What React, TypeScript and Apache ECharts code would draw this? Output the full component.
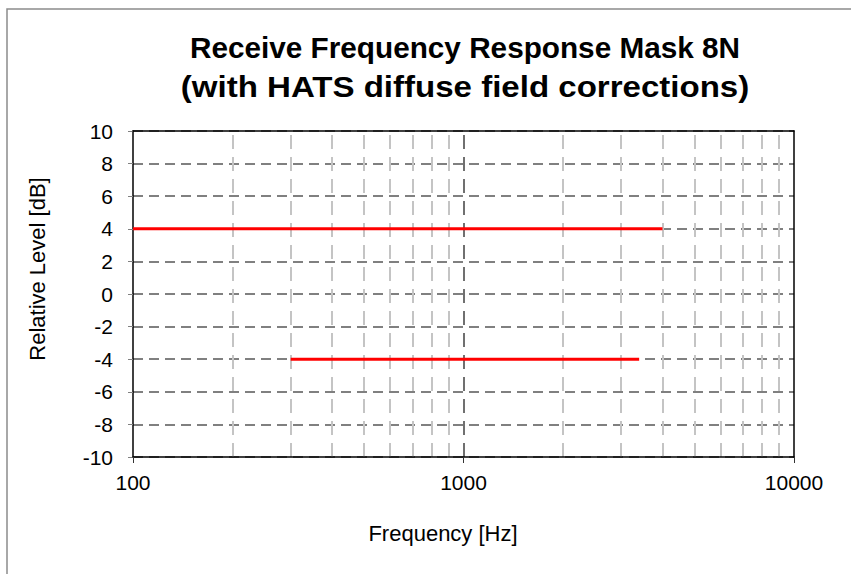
import React, { useEffect, useRef } from "react";
import * as echarts from "echarts";

const titleLines = ["Receive Frequency Response Mask 8N", "(with HATS diffuse field corrections)"];
const xAxisName = "Frequency [Hz]";
const yAxisName = "Relative Level [dB]";
const xMin = 100;
const xMax = 10000;
const yMin = -10;
const yMax = 10;
const yStep = 2;
const upperMask: [number, number][] = [
  [100, 4],
  [4000, 4],
];
const lowerMask: [number, number][] = [
  [300, -4],
  [3400, -4],
];
const minorGridFreqs = [200, 300, 400, 500, 600, 700, 800, 900, 2000, 3000, 4000, 5000, 6000, 7000, 8000, 9000];
const majorGridFreqs = [1000];

const FONT = "'Liberation Sans', Arial, Helvetica, sans-serif";

export default function App() {
  const ref = useRef<HTMLDivElement>(null);
  useEffect(() => {
    if (!ref.current) return;
    const chart = echarts.init(ref.current, undefined, { renderer: "svg" });
    chart.setOption({
      animation: false,
      backgroundColor: "#ffffff",
      textStyle: { fontFamily: FONT },
      grid: { left: 133, right: 57, top: 131, bottom: 117, containLabel: false },
      graphic: [
        {
          type: "rect",
          shape: { x: 7, y: 9, width: 900, height: 700 },
          style: { fill: "none", stroke: "#8c8c8c", lineWidth: 1.5 },
          silent: true,
          z: -10,
        },
        {
          type: "text",
          x: 465,
          y: 48,
          scaleX: 1.025,
          style: {
            text: titleLines[0],
            font: `bold 29px ${FONT}`,
            fill: "#000",
            textAlign: "center",
            textVerticalAlign: "middle",
          },
        },
        {
          type: "text",
          x: 465,
          y: 87,
          scaleX: 1.14,
          style: {
            text: titleLines[1],
            font: `bold 29px ${FONT}`,
            fill: "#000",
            textAlign: "center",
            textVerticalAlign: "middle",
          },
        },
        {
          type: "text",
          x: 37,
          y: 269,
          rotation: Math.PI / 2,
          style: {
            text: yAxisName,
            font: `22px ${FONT}`,
            fill: "#000",
            textAlign: "center",
            textVerticalAlign: "middle",
          },
        },
        {
          type: "text",
          x: 443,
          y: 533,
          style: {
            text: xAxisName,
            font: `22px ${FONT}`,
            fill: "#000",
            textAlign: "center",
            textVerticalAlign: "middle",
          },
        },
      ],
      xAxis: [
        {
          type: "log",
          logBase: 10,
          min: xMin,
          max: xMax,
          axisLine: { show: true, onZero: false, lineStyle: { color: "#000", width: 1.5 } },
          axisTick: { show: true, inside: false, length: 6, lineStyle: { color: "#333", width: 1 } },
          axisLabel: {
            margin: 15,
            fontSize: 21,
            color: "#000",
            fontFamily: FONT,
            formatter: (v: number) => String(Math.round(v)),
          },
          splitLine: { show: false },
          minorTick: { show: false },
          z: 10,
        },
        {
          type: "value",
          position: "top",
          min: 0,
          max: 1,
          axisLine: { show: true, onZero: false, lineStyle: { color: "#000", width: 1.5 } },
          axisTick: { show: false },
          axisLabel: { show: false },
          splitLine: { show: false },
          z: 10,
        },
      ],
      yAxis: [
        {
          type: "value",
          min: yMin,
          max: yMax,
          interval: yStep,
          axisLine: { show: true, onZero: false, lineStyle: { color: "#000", width: 1.5 } },
          axisTick: { show: true, inside: false, length: 5, lineStyle: { color: "#808080", width: 1 } },
          axisLabel: { margin: 20, fontSize: 21, color: "#000", fontFamily: FONT },
          splitLine: { show: true, lineStyle: { color: "#808080", width: 2, type: [10, 6] } },
          z: 0,
        },
        {
          type: "value",
          position: "right",
          min: 0,
          max: 1,
          axisLine: { show: true, onZero: false, lineStyle: { color: "#000", width: 1.5 } },
          axisTick: { show: false },
          axisLabel: { show: false },
          splitLine: { show: false },
          z: 10,
        },
      ],
      series: [
        {
          type: "line",
          data: [],
          z: 1,
          silent: true,
          markLine: {
            silent: true,
            symbol: ["none", "none"],
            label: { show: false },
            lineStyle: { color: "#c4c4c4", width: 2, type: [14, 8] },
            data: minorGridFreqs.map((f) => ({ xAxis: f })),
          },
        },
        {
          type: "line",
          data: [],
          z: 1,
          silent: true,
          markLine: {
            silent: true,
            symbol: ["none", "none"],
            label: { show: false },
            lineStyle: { color: "#707070", width: 2, type: [14, 8] },
            data: majorGridFreqs.map((f) => ({ xAxis: f })),
          },
        },
        {
          name: "Upper mask",
          type: "line",
          data: upperMask,
          showSymbol: false,
          symbol: "none",
          lineStyle: { color: "#ff0000", width: 3 },
          z: 5,
        },
        {
          name: "Lower mask",
          type: "line",
          data: lowerMask,
          showSymbol: false,
          symbol: "none",
          lineStyle: { color: "#ff0000", width: 3 },
          z: 5,
        },
      ],
    });
    return () => chart.dispose();
  }, []);
  return (
    <div
      ref={ref}
      style={{ position: "fixed", left: 0, top: 0, width: 851, height: 574, background: "#fff" }}
    />
  );
}
